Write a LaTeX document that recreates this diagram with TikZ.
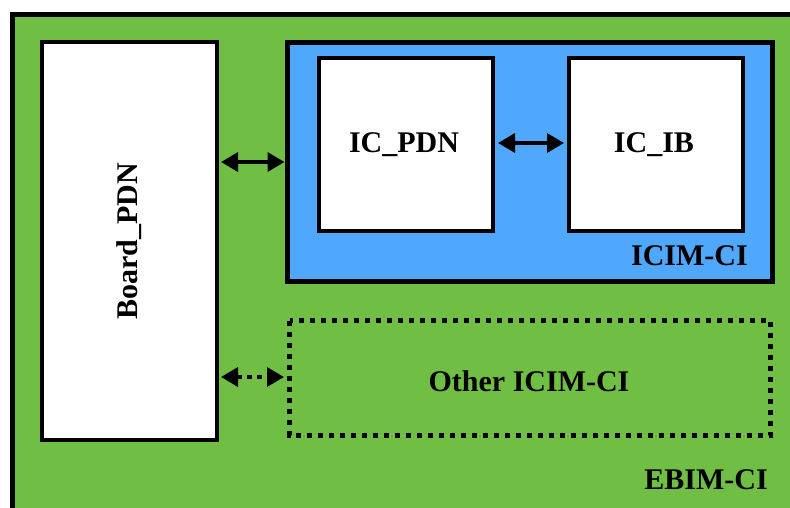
\documentclass[tikz,border=0pt]{standalone}
\usepackage{fontspec}
\setmainfont{Liberation Serif}
\usetikzlibrary{arrows.meta}
\definecolor{ebgreen}{RGB}{112,190,68}
\definecolor{icblue}{RGB}{80,168,252}
\tikzset{
  x=1pt,y=-1pt,
  lbl/.style={font=\fontsize{30}{32}\selectfont\bfseries, inner sep=0pt},
  whitebox/.style={draw=black, line width=4pt, fill=white},
  link/.style={line width=3.5pt, {Triangle[length=17pt,width=19pt]}-{Triangle[length=17pt,width=19pt]}},
  dotlink/.style={link, dash pattern=on 5pt off 5pt},
}
\begin{document}
\begin{tikzpicture}
\useasboundingbox (0,0) rectangle (790,507);
\begin{scope}
\clip (0,0) rectangle (790,507);
\draw[line width=5pt, fill=ebgreen] (12.5,14.5) rectangle (820,530);
\end{scope}
\node[whitebox, minimum width=175pt, minimum height=398pt, anchor=north west] (board) at (40,40) {};
\node[lbl, rotate=90] (boardt) at (board.center) {Board\_PDN};
\draw[line width=5pt, fill=icblue] (287.5,42.5) rectangle (772.5,281.5);
\coordinate (blueW) at (287.5,162);
\node[whitebox, minimum width=174pt, minimum height=173pt, anchor=north west] (icpdn) at (317,56) {};
\node[whitebox, minimum width=174pt, minimum height=173pt, anchor=north west] (icib) at (567,56) {};
\node[lbl] (icpdnt) at (404,145) {IC\_PDN};
\node[lbl] (icibt) at (654,145) {IC\_IB};
\node[lbl, anchor=base east] (icim) at (748,265) {ICIM-CI};
\draw[line width=5pt, dash pattern=on 5pt off 6pt] (289.5,320.5) rectangle (770.5,435);
\coordinate (otherW) at (287,377);
\node[lbl] (other) at (529,381) {Other ICIM-CI};
\node[lbl, anchor=base east] (ebim) at (768,489) {EBIM-CI};
\draw[link] ([xshift=2pt]board.east |- blueW) -- ([xshift=-3pt]blueW);
\draw[link] ([xshift=3pt]icpdn.east |- 0,143) -- ([xshift=-3pt]icib.west |- 0,143);
\draw[dotlink] ([xshift=2pt]board.east |- otherW) -- ([xshift=-3pt]otherW);
\end{tikzpicture}
\end{document}
